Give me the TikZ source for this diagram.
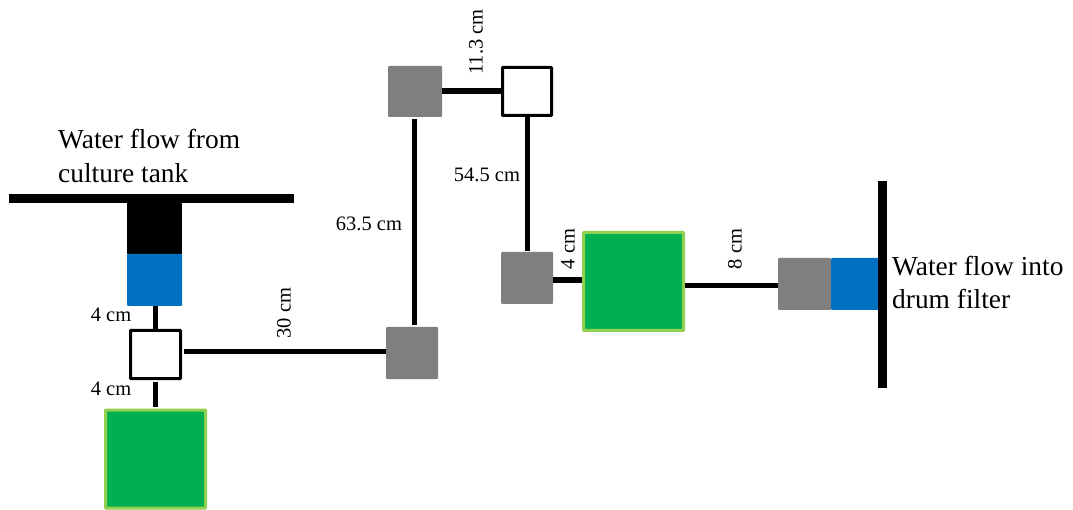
\documentclass[tikz,border=0pt]{standalone}
\usepackage{fontspec}
\setmainfont{Liberation Serif}
\definecolor{pipegray}{HTML}{7F7F7F}
\definecolor{pipeblue}{HTML}{0070C0}
\definecolor{tankgreen}{HTML}{00B050}
\definecolor{tankedge}{HTML}{92D050}
\tikzset{
  block/.style={rectangle,inner sep=0pt,outer sep=0pt,anchor=center},
  bar/.style={block,fill=black},
  graybox/.style={block,fill=pipegray,rounded corners=1pt},
  bluebox/.style={block,fill=pipeblue,rounded corners=1pt},
  whitebox/.style={block,draw=black,line width=3pt,fill=white,rounded corners=0.5pt},
  greenbox/.style={block,draw=tankedge,line width=3pt,fill=tankgreen,rounded corners=0.5pt},
  pipe/.style={line width=5pt,black},
  thickpipe/.style={line width=6pt,black},
  biglabel/.style={inner sep=0pt,anchor=base west,font=\fontsize{27.4}{32}\selectfont},
  dimlabel/.style={inner sep=0pt,anchor=center,font=\fontsize{20.5}{24}\selectfont},
}
\begin{document}
\begin{tikzpicture}[x=1pt,y=-1pt]
\useasboundingbox (0,0) rectangle (1073,510);
% top-left assembly
\node[bar,minimum width=285pt,minimum height=9pt] (topbar) at (151.5,198.5) {};
\node[bar,minimum width=55pt,minimum height=51pt] (tee) at (154.5,228.5) {};
\node[bluebox,minimum width=55pt,minimum height=52pt] (blueA) at (154.5,280) {};
\node[whitebox,minimum width=50pt,minimum height=48pt] (whiteA) at (155.5,354.5) {};
\node[greenbox,minimum width=100pt,minimum height=98pt] (greenA) at (155.5,459) {};
% middle
\node[graybox,minimum width=52pt,minimum height=52pt] (grayA) at (412,353) {};
\node[graybox,minimum width=54pt,minimum height=51pt] (grayB) at (415,91.5) {};
\node[whitebox,minimum width=49pt,minimum height=48pt] (whiteB) at (527,91.5) {};
\node[graybox,minimum width=52pt,minimum height=52pt] (grayC) at (527,278) {};
\node[greenbox,minimum width=100pt,minimum height=98pt] (greenB) at (633.5,281.5) {};
% right
\node[graybox,minimum width=53pt,minimum height=52pt] (grayD) at (804.5,284) {};
\node[bluebox,minimum width=48pt,minimum height=52pt] (blueB) at (855,284) {};
\node[bar,minimum width=9pt,minimum height=207pt] (wall) at (882.5,284.5) {};
% connector tracks
\coordinate (trackA) at (155,0);
\coordinate (trackB) at (0,352);
\coordinate (trackC) at (414,0);
\coordinate (trackD) at (0,280);
\coordinate (trackE) at (0,286);
% connectors (yshift is in page direction: positive is upward)
\draw[pipe] (blueA.south -| trackA) -- ([yshift=1.5pt]whiteA.north -| trackA);
\draw[pipe] ([yshift=-3pt]whiteA.south -| trackA) -- ([yshift=3pt]greenA.north -| trackA);
\draw[pipe] ([xshift=3pt]whiteA.east |- trackB) -- (grayA.west |- trackB);
\draw[pipe] ([yshift=2pt]grayA.north -| trackC) -- ([yshift=-2pt]grayB.south -| trackC);
\draw[thickpipe] (grayB.east) -- (whiteB.west);
\draw[pipe] (whiteB.south) -- ([yshift=1pt]grayC.north);
\draw[thickpipe] (grayC.east |- trackD) -- ([xshift=-1.5pt]greenB.west |- trackD);
\draw[pipe] ([xshift=1.5pt]greenB.east |- trackE) -- (grayD.west |- trackE);
% labels
\node[biglabel] (srcA) at (58,149) {Water flow from};
\node[biglabel] (srcB) at (58,182.5) {culture tank};
\node[biglabel] (dstA) at (892,276) {Water flow into};
\node[biglabel] (dstB) at (892,308.5) {drum filter};
\node[dimlabel] (dimA) at (111,315) {4 cm};
\node[dimlabel] (dimB) at (111,389) {4 cm};
\node[dimlabel,rotate=90] (dimC) at (284,313) {30 cm};
\node[dimlabel] (dimD) at (369,224) {63.5 cm};
\node[dimlabel,rotate=90] (dimE) at (476,42) {11.3 cm};
\node[dimlabel] (dimF) at (487,175) {54.5 cm};
\node[dimlabel,rotate=90] (dimG) at (568,249) {4 cm};
\node[dimlabel,rotate=90] (dimH) at (735,249) {8 cm};
\end{tikzpicture}
\end{document}
